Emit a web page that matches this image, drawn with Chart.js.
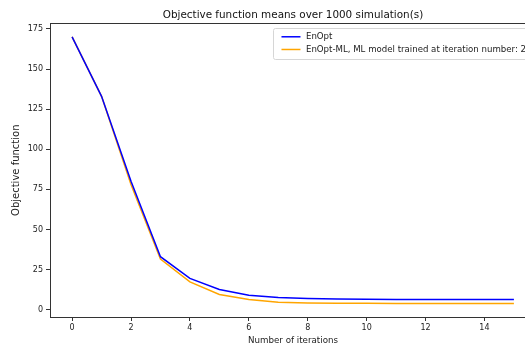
<!DOCTYPE html>
<html>
<head>
<meta charset="utf-8">
<script src="https://cdn.jsdelivr.net/npm/chart.js@4/dist/chart.umd.min.js"></script>
<style>
  html, body { margin: 0; padding: 0; background: #fff; overflow: hidden; }
  #wrap { width: 540px; height: 347px; }
</style>
</head>
<body>
<div id="wrap"><canvas id="objChart"></canvas></div>
<script>
// values
const iterations = [0, 1, 2, 3, 4, 5, 6, 7, 8, 9, 10, 11, 12, 13, 14, 15];
const enoptValues = [170, 133, 80, 33, 19.5, 12.5, 9, 7.5, 6.9, 6.6, 6.4, 6.3, 6.3, 6.3, 6.3, 6.3];
const enoptMlValues = [170, 133, 78, 31.5, 17.3, 9.4, 6.3, 4.6, 4.2, 4.0, 3.9, 3.8, 3.8, 3.8, 3.8, 3.8];
const xTicks = [0, 2, 4, 6, 8, 10, 12, 14];
const yTicks = [0, 25, 50, 75, 100, 125, 150, 175];
const seriesLabels = ['EnOpt', 'EnOpt-ML, ML model trained at iteration number: 2'];
const seriesColors = ['#0000ff', '#ffa500'];

const FONT = 'DejaVu Sans';

// top/right spines + matplotlib-style legend in the upper right of the axes
const innerLegend = {
    id: 'innerLegend',
    afterDraw(chart) {
        const ctx = chart.ctx;
        const area = chart.chartArea;
        ctx.save();
        ctx.strokeStyle = '#333';
        ctx.lineWidth = 1;
        ctx.beginPath();
        ctx.moveTo(area.left, Math.round(area.top) + 0.5);
        ctx.lineTo(area.right, Math.round(area.top) + 0.5);
        ctx.lineTo(area.right, area.bottom);
        ctx.stroke();

        ctx.font = '8.6px "' + FONT + '"';
        const labels = chart.data.datasets.map(d => d.label);
        const textW = Math.max(...labels.map(l => ctx.measureText(l).width));
        const padL = 8, handle = 19, gap = 5.5, padR = 6;
        const right = area.right - 4;
        const left = right - (padL + handle + gap + textW + padR);
        const top = area.top + 5;
        const rowH = 12.7;
        const height = 31;
        ctx.fillStyle = 'rgba(255,255,255,0.8)';
        ctx.strokeStyle = '#d6d6d6';
        ctx.lineWidth = 1;
        ctx.beginPath();
        ctx.roundRect(Math.round(left) + 0.5, Math.round(top) + 0.5, right - left, height, 2);
        ctx.fill();
        ctx.stroke();
        chart.data.datasets.forEach((ds, i) => {
            const y = top + 8.3 + i * rowH;
            ctx.strokeStyle = ds.borderColor;
            ctx.lineWidth = 1.5;
            ctx.beginPath();
            ctx.moveTo(left + padL, y);
            ctx.lineTo(left + padL + handle, y);
            ctx.stroke();
            ctx.fillStyle = '#222';
            ctx.textBaseline = 'middle';
            ctx.textAlign = 'left';
            ctx.fillText(ds.label, left + padL + handle + gap, y);
        });
        ctx.restore();
    }
};

const ctx = document.getElementById('objChart').getContext('2d');
new Chart(ctx, {
    type: 'line',
    data: {
        labels: iterations,
        datasets: [
            {
                label: seriesLabels[0],
                data: iterations.map((x, i) => ({ x: x, y: enoptValues[i] })),
                borderColor: seriesColors[0],
                borderWidth: 1.5,
                pointRadius: 0,
                tension: 0,
                fill: false
            },
            {
                label: seriesLabels[1],
                data: iterations.map((x, i) => ({ x: x, y: enoptMlValues[i] })),
                borderColor: seriesColors[1],
                borderWidth: 1.5,
                pointRadius: 0,
                tension: 0,
                fill: false
            }
        ]
    },
    options: {
        responsive: true,
        maintainAspectRatio: false,
        animation: false,
        layout: { padding: { left: 0, right: 4, top: 0, bottom: 0 } },
        plugins: {
            legend: { display: false },
            tooltip: { enabled: false },
            title: {
                display: true,
                fullSize: false,
                text: 'Objective function means over 1000 simulation(s)',
                color: '#111',
                font: { family: FONT, size: 10.4, weight: 'normal' },
                padding: { top: 9.5, bottom: 1.5 }
            }
        },
        scales: {
            x: {
                type: 'linear',
                min: -0.75,
                max: 15.75,
                afterBuildTicks: s => { s.ticks = xTicks.map(v => ({ value: v })); },
                afterFit: s => { s.height = 30; },
                grid: { drawOnChartArea: false, tickLength: 4, color: '#333' },
                border: { color: '#333', width: 1 },
                ticks: { color: '#222', font: { family: FONT, size: 8 }, padding: 2, maxRotation: 0 },
                title: {
                    display: true,
                    text: 'Number of iterations',
                    color: '#222',
                    font: { family: FONT, size: 8.7 },
                    padding: { top: 0, bottom: 1 }
                }
            },
            y: {
                min: -4.6,
                max: 178.4,
                afterBuildTicks: s => { s.ticks = yTicks.map(v => ({ value: v })); },
                afterFit: s => { s.width = 50; },
                grid: { drawOnChartArea: false, tickLength: 4, color: '#333' },
                border: { color: '#333', width: 1 },
                ticks: { color: '#222', font: { family: FONT, size: 8 }, padding: 3 },
                title: {
                    display: true,
                    text: 'Objective function',
                    color: '#222',
                    font: { family: FONT, size: 10 },
                    padding: { top: 10, bottom: 0 }
                }
            }
        }
    },
    plugins: [innerLegend]
});
</script>
</body>
</html>
